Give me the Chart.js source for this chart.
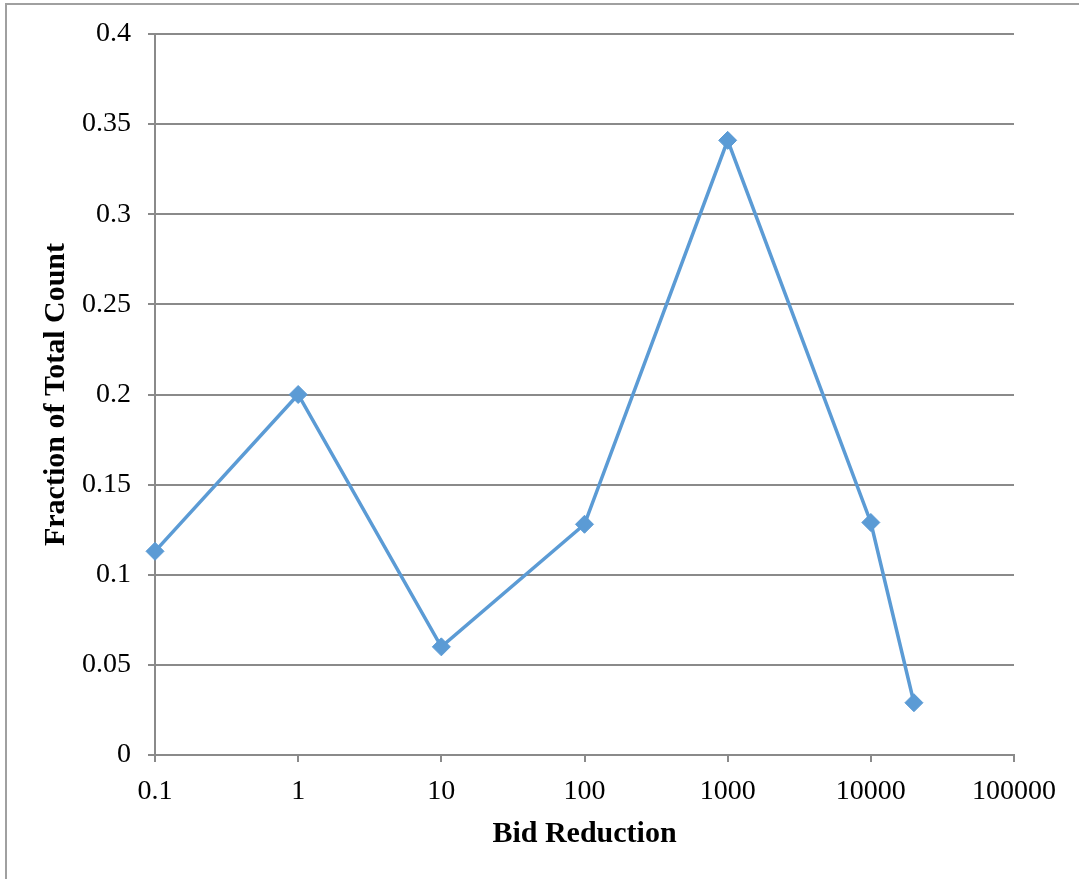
<!DOCTYPE html>
<html>
<head>
<meta charset="utf-8">
<script src="https://cdn.jsdelivr.net/npm/chart.js@4/dist/chart.umd.min.js"></script>
<style>
  html, body { margin: 0; padding: 0; background: #fff; }
  canvas { display: block; }
</style>
</head>
<body>
<canvas id="c" width="1079" height="879"></canvas>
<script>
// Data
const bidReduction = [0.1, 1, 10, 100, 1000, 10000, 20000];
const fractionOfTotal = [0.113, 0.2, 0.06, 0.128, 0.341, 0.129, 0.029];
const xTickValues = [0.1, 1, 10, 100, 1000, 10000, 100000];
const xTickLabels = ['0.1', '1', '10', '100', '1000', '10000', '100000'];
const yTickValues = [0, 0.05, 0.1, 0.15, 0.2, 0.25, 0.3, 0.35, 0.4];
const yTickLabels = ['0', '0.05', '0.1', '0.15', '0.2', '0.25', '0.3', '0.35', '0.4'];
const xTitle = 'Bid Reduction';
const yTitle = 'Fraction of Total Count';

const points = bidReduction.map((x, i) => ({ x: x, y: fractionOfTotal[i] }));

const gridColor = '#8a8a8a';
const serif = "'Liberation Serif', 'Times New Roman', serif";

const outerBorder = {
  id: 'outerBorder',
  beforeDraw(chart) {
    const ctx = chart.ctx;
    ctx.save();
    ctx.fillStyle = '#fff';
    ctx.fillRect(0, 0, chart.width, chart.height);
    ctx.strokeStyle = '#a0a0a0';
    ctx.lineWidth = 2;
    ctx.strokeRect(6, 4, 2000, 2000);
    ctx.restore();
  }
};

new Chart(document.getElementById('c'), {
  type: 'line',
  data: {
    datasets: [{
      data: points,
      borderColor: '#5B9BD5',
      backgroundColor: '#5B9BD5',
      borderWidth: 3.5,
      tension: 0,
      clip: false,
      pointStyle: 'rectRot',
      pointRadius: 9,
      pointHoverRadius: 9,
      pointBorderWidth: 1,
      pointBackgroundColor: '#5B9BD5',
      pointBorderColor: '#5B9BD5',
      fill: false
    }]
  },
  options: {
    responsive: false,
    animation: false,
    events: [],
    layout: { padding: { top: 34, right: 65, bottom: 0, left: 0 } },
    plugins: {
      legend: { display: false },
      title: { display: false },
      tooltip: { enabled: false }
    },
    scales: {
      x: {
        type: 'logarithmic',
        min: 0.1,
        max: 100000,
        afterBuildTicks(scale) {
          scale.ticks = xTickValues.map(v => ({ value: v, major: false }));
        },
        afterFit(scale) { scale.height = 124; },
        grid: {
          drawOnChartArea: false,
          drawTicks: true,
          tickLength: 7,
          color: gridColor,
          lineWidth: 2
        },
        border: { display: true, color: gridColor, width: 2 },
        ticks: {
          autoSkip: false,
          maxRotation: 0,
          padding: 13,
          color: '#000',
          font: { family: serif, size: 28 },
          callback(value, index) { return xTickLabels[index]; }
        },
        title: {
          display: true,
          text: xTitle,
          color: '#000',
          font: { family: serif, size: 30, weight: 'bold' },
          padding: { top: 0, bottom: 27 }
        }
      },
      y: {
        type: 'linear',
        min: 0,
        max: 0.4,
        afterBuildTicks(scale) {
          scale.ticks = yTickValues.map(v => ({ value: v }));
        },
        afterFit(scale) { scale.width = 155; },
        grid: {
          drawOnChartArea: true,
          drawTicks: true,
          tickLength: 7,
          color: gridColor,
          lineWidth: 2
        },
        border: { display: true, color: gridColor, width: 2 },
        ticks: {
          padding: 17,
          color: '#000',
          font: { family: serif, size: 28 },
          callback(value, index) { return yTickLabels[index]; }
        },
        title: {
          display: true,
          text: yTitle,
          color: '#000',
          font: { family: serif, size: 30, weight: 'bold' },
          padding: { top: 38, bottom: 0 }
        }
      }
    }
  },
  plugins: [outerBorder]
});
</script>
</body>
</html>
